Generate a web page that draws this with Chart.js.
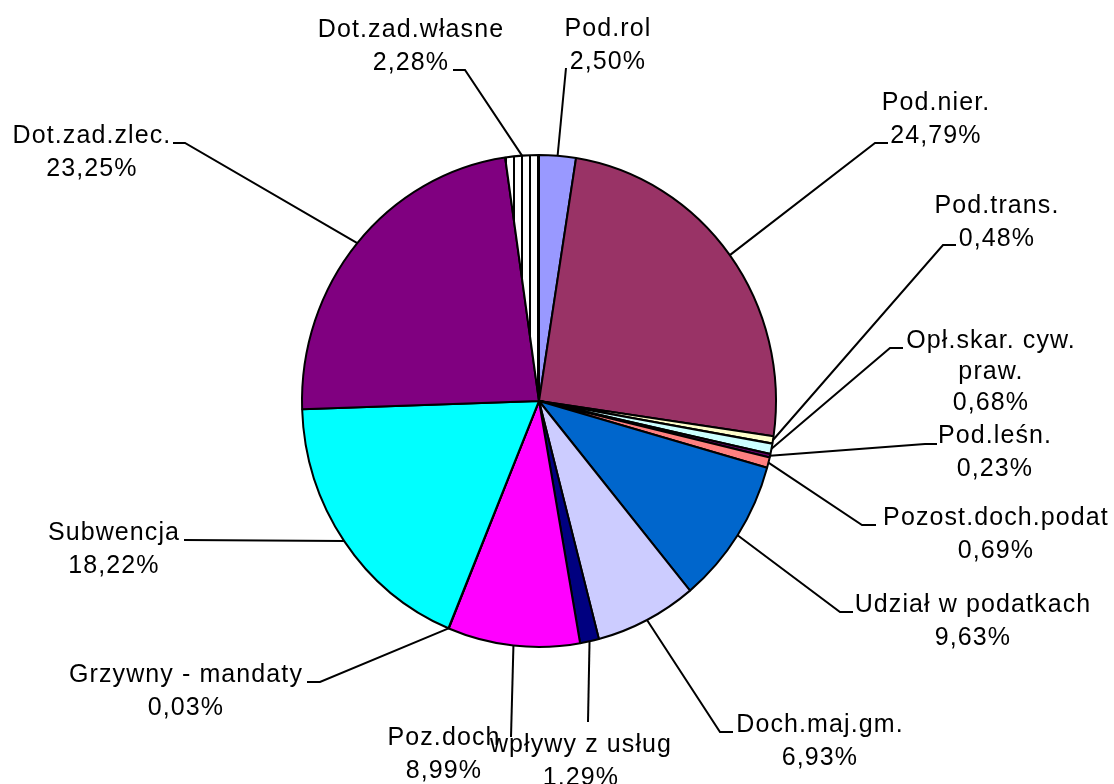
<!DOCTYPE html>
<html lang="pl">
<head>
  <meta charset="UTF-8">
  <title>Struktura dochodów</title>
  <script src="https://cdn.jsdelivr.net/npm/chart.js"></script>
  <style>
    body { margin: 0; background: #fff; }
    #wykres { display: block; }
  </style>
</head>
<body>
  <canvas id="wykres" width="1114" height="784"></canvas>

  <script>
    // kategorie i udziały (%)
    const kategorie = [
      'Pod.rol', 'Pod.nier.', 'Pod.trans.', ['Opł.skar. cyw.', 'praw.'], 'Pod.leśn.',
      'Pozost.doch.podat', 'Udział w podatkach', 'Doch.maj.gm.', 'wpływy z usług',
      'Poz.doch', 'Grzywny - mandaty', 'Subwencja', 'Dot.zad.zlec.', 'Dot.zad.własne'
    ];
    const udzialy = [2.50, 24.79, 0.48, 0.68, 0.23, 0.69, 9.63, 6.93, 1.29, 8.99, 0.03, 18.22, 23.25, 2.28];
    const kolory = ['#9999FF', '#993366', '#FFFFCC', '#CCFFFF', '#660066', '#FF8080', '#0066CC',
                    '#CCCCFF', '#000080', '#FF00FF', '#FFFF00', '#00FFFF', '#800080', 'paski'];

    // rozmieszczenie etykiet: środek tekstu, linia bazowa, punkty linii odniesienia
    const etykiety = [
      { x: 607, y: 36,  linia: [[566, 68]] },
      { x: 935, y: 110, linia: [[875, 143], [888, 143]] },
      { x: 996, y: 213, linia: [[943, 245], [956, 245]] },
      { x: 990, y: 348, linia: [[890, 348], [903, 348]], odstep: 31 },
      { x: 994, y: 443, linia: [[925, 444], [937, 444]] },
      { x: 995, y: 525, linia: [[862, 525], [876, 525]] },
      { x: 972, y: 612, linia: [[840, 612], [853, 612]] },
      { x: 819, y: 732, linia: [[720, 732], [733, 732]] },
      { x: 580, y: 752, linia: [[588, 722]] },
      { x: 443, y: 745, linia: [[511, 737]] },
      { x: 185, y: 682, linia: [[320, 682], [307, 682]] },
      { x: 113, y: 540, linia: [[184, 540]] },
      { x: 91,  y: 143, linia: [[185, 143], [173, 143]] },
      { x: 410, y: 37,  linia: [[465, 70], [453, 70]] }
    ];

    const SKALA_Y = 246 / 237; // wykres w oryginale jest lekko rozciągnięty w pionie

    const ctx = document.getElementById('wykres').getContext('2d');

    // wypełnienie w pionowe paski
    const pc = document.createElement('canvas');
    pc.width = 8; pc.height = 8;
    const p = pc.getContext('2d');
    p.fillStyle = '#fff'; p.fillRect(0, 0, 8, 8);
    p.fillStyle = '#000'; p.fillRect(1, 0, 2, 8);
    const paski = ctx.createPattern(pc, 'repeat');

    const rozciagnij = {
      id: 'rozciagnij',
      beforeDatasetsDraw(chart) {
        const arc = chart.getDatasetMeta(0).data[0];
        const c = chart.ctx;
        c.save();
        c.translate(arc.x, arc.y);
        c.scale(1, SKALA_Y);
        c.translate(-arc.x, -arc.y);
      },
      afterDatasetsDraw(chart) {
        chart.ctx.restore();
      }
    };

    const opisy = {
      id: 'opisy',
      afterDraw(chart) {
        const c = chart.ctx;
        const meta = chart.getDatasetMeta(0);
        c.save();
        c.strokeStyle = '#000';
        c.lineWidth = 2;
        c.fillStyle = '#000';
        c.font = '25px "Liberation Sans", Arial, sans-serif';
        c.textAlign = 'center';
        c.letterSpacing = '1.1px';
        meta.data.forEach((arc, i) => {
          const e = etykiety[i];
          const a = (arc.startAngle + arc.endAngle) / 2;
          const sx = arc.x + Math.cos(a) * arc.outerRadius;
          const sy = arc.y + Math.sin(a) * arc.outerRadius * SKALA_Y;
          c.beginPath();
          c.moveTo(sx, sy);
          e.linia.forEach(pt => c.lineTo(pt[0], pt[1]));
          c.stroke();

          const nazwa = Array.isArray(kategorie[i]) ? kategorie[i] : [kategorie[i]];
          const linie = nazwa.concat([udzialy[i].toFixed(2).replace('.', ',') + '%']);
          const odstep = e.odstep || 33;
          linie.forEach((t, j) => c.fillText(t, e.x + 1, e.y + j * odstep));
        });
        c.restore();
      }
    };

    new Chart(ctx, {
      type: 'pie',
      data: {
        labels: kategorie,
        datasets: [{
          data: udzialy,
          backgroundColor: kolory.map(k => k === 'paski' ? paski : k),
          borderColor: '#000',
          borderWidth: 2
        }]
      },
      options: {
        responsive: false,
        animation: false,
        events: [],
        radius: 237,
        layout: { padding: { left: 299, right: 335, top: 161, bottom: 143 } },
        plugins: {
          legend: { display: false },
          tooltip: { enabled: false }
        }
      },
      plugins: [rozciagnij, opisy]
    });
  </script>
</body>
</html>
